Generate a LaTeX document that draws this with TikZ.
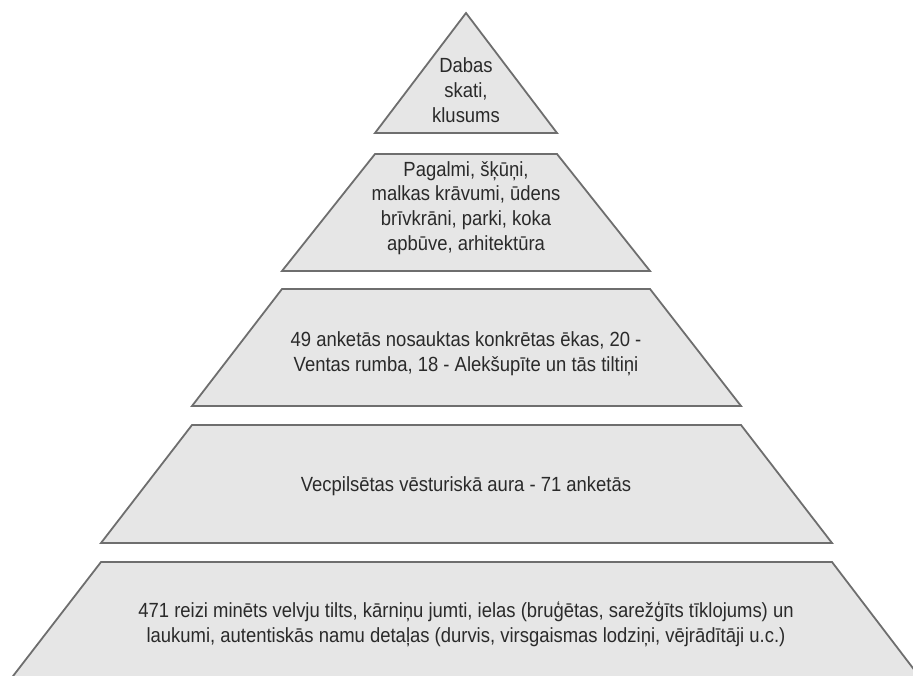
\documentclass[tikz,border=0pt]{standalone}
\usepackage{fontspec}
\setmainfont[FakeStretch=0.9]{Liberation Sans}
\definecolor{tierfill}{HTML}{E6E6E6}
\definecolor{tierline}{HTML}{6E6E6E}
\definecolor{tiertext}{HTML}{2A2A2A}
\begin{document}
\begin{tikzpicture}[x=1pt,y=-1pt,
  tier/.style={fill=tierfill,draw=tierline,line width=1.8pt,line join=miter},
  lbl/.style={align=center,text=tiertext,font=\fontsize{20.5}{24.8}\selectfont,inner sep=0pt}]
\useasboundingbox (0,0) rectangle (913,675);
\begin{scope}
\clip (0,0) rectangle (913,675);
\draw[tier] (466,13) -- (557,133) -- (375,133) -- cycle;
\draw[tier] (375,154) -- (557,154) -- (650,271) -- (282,271) -- cycle;
\draw[tier] (282,289) -- (650,289) -- (741,406) -- (192,406) -- cycle;
\draw[tier] (192,425) -- (741,425) -- (832,543) -- (101,543) -- cycle;
\draw[tier] (101,562) -- (832,562) -- (922,680) -- (10,680) -- cycle;
\end{scope}
\node[lbl] (t1) at (466,90) {Dabas\\skati,\\klusums};
\node[lbl] (t2) at (466,208) {Pagalmi, šķūņi,\\malkas krāvumi, ūdens\\brīvkrāni, parki, koka\\apbūve, arhitektūra};
\node[lbl] (t3) at (466,354) {49 anketās nosauktas konkrētas ēkas, 20 -\\Ventas rumba, 18 - Alekšupīte un tās tiltiņi};
\node[lbl] (t4) at (466,486) {Vecpilsētas vēsturiskā aura - 71 anketās};
\node[lbl] (t5) at (466,624) {471 reizi minēts velvju tilts, kārniņu jumti, ielas (bruģētas, sarežģīts tīklojums) un\\laukumi, autentiskās namu detaļas (durvis, virsgaismas lodziņi, vējrādītāji u.c.)};
\end{tikzpicture}
\end{document}
